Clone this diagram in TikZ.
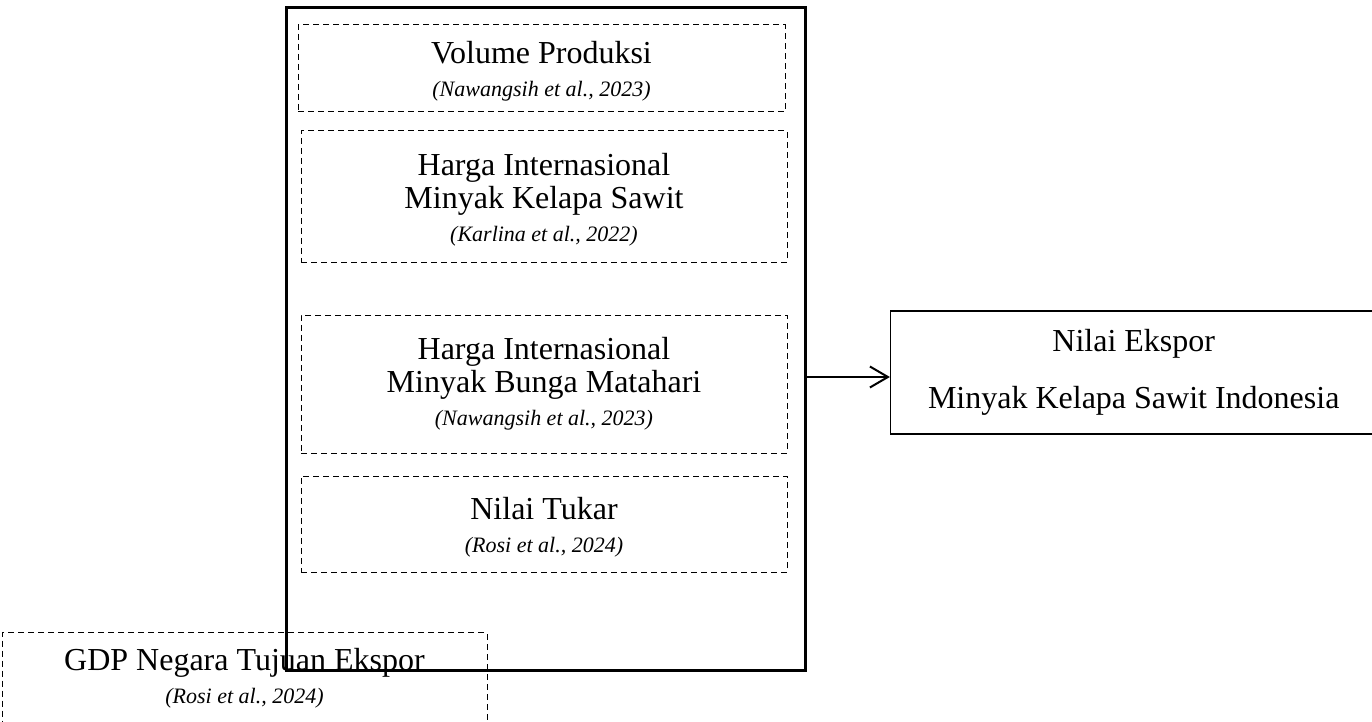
\documentclass[tikz,border=0pt]{standalone}
\usepackage{fontspec}
\setmainfont{Liberation Serif}
\usetikzlibrary{arrows.meta}
\newcommand{\sumber}[1]{{\fontsize{11}{16.5}\selectfont\itshape #1}}
\newcommand{\atas}{\rule{0pt}{14pt}}
\tikzset{
	variabel/.style={draw, line width=0.5pt, dash pattern=on 3pt off 2pt, minimum width=243pt, align=center, inner sep=0pt, font=\fontsize{16}{16.5}\selectfont},
	wadah/.style={draw, line width=1.5pt, minimum width=259.5pt, minimum height=331pt, inner sep=0pt},
	hasil/.style={draw, line width=0.6pt, minimum width=243.25pt, minimum height=61.5pt, align=center, inner sep=0pt, font=\fontsize{16}{16.5}\selectfont},
	panah/.style={-{Straight Barb[length=9pt,width=10.5pt]}, line width=1pt}
}
\begin{document}
\begin{tikzpicture}[x=0.5pt,y=-0.5pt]
		\useasboundingbox (0,0) rectangle (1372,722);
		\node[variabel, minimum width=243.5pt, minimum height=43.5pt] (vol) at (541.5,68.5) {\atas Volume Produksi\\ \sumber{(Nawangsih et al., 2023)}};
		\node[variabel, minimum height=65.5pt] (hsawit) at (544,196.5) {\atas Harga Internasional\\ Minyak Kelapa Sawit\\ \sumber{(Karlina et al., 2022)}};
		\node[variabel, minimum height=69pt] (hbunga) at (544,384) {Harga Internasional\\ Minyak Bunga Matahari\\ \sumber{(Nawangsih et al., 2023)}};
		\node[variabel, minimum height=48pt] (kurs) at (544,524) {\atas Nilai Tukar\\ \sumber{(Rosi et al., 2024)}};
		\node[variabel, minimum width=242.5pt, minimum height=46pt, anchor=north] (gdp) at (244.5,632) {GDP Negara Tujuan Ekspor\\ \sumber{(Rosi et al., 2024)}};
		\node[wadah] (grp) at (545.5,339) {};
		\node[hasil] (ekspor) at (1133.75,372.5) {Nilai Ekspor\\[12pt] Minyak Kelapa Sawit Indonesia};
		\draw[panah] (grp.east |- 0,377) -- (ekspor.west |- 0,377);
	\end{tikzpicture}
\end{document}
